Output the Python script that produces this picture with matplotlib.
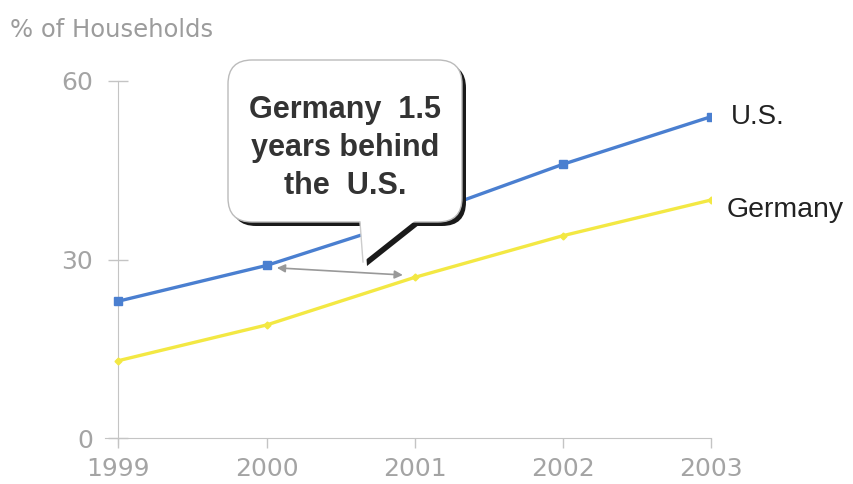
import matplotlib.pyplot as plt
from matplotlib.patches import FancyBboxPatch, Polygon
import numpy as np

# data
years = [1999, 2000, 2001, 2002, 2003]
us = [23, 29, 37, 46, 54]
germany = [13, 19, 27, 34, 40]
y_ticks = [0, 30, 60]

blue = '#4a7fd0'
yellow = '#f3e843'
grey = '#a4a4a4'
spine_grey = '#c4c4c4'

fig = plt.figure(figsize=(8.54, 4.84), dpi=100)
ax = fig.add_axes([105 / 854, 1 - 444 / 484, 606 / 854, 363 / 484])

ax.plot(years, us, color=blue, lw=2.4, marker='s', ms=6, zorder=3)
ax.plot(years, germany, color=yellow, lw=2.4, marker='D', ms=3.5, zorder=3)

ax.set_xlim(1998.91, 2003)
ax.set_ylim(-1, 60)
ax.set_xticks(years)
ax.set_yticks(y_ticks)

for s in ['top', 'right']:
    ax.spines[s].set_visible(False)
ax.spines['left'].set_position(('data', 1999))
ax.spines['bottom'].set_position(('data', 0))
ax.spines['left'].set_color(spine_grey)
ax.spines['bottom'].set_color(spine_grey)

ax.tick_params(axis='y', direction='inout', length=14, width=1, color=spine_grey,
               labelcolor=grey, labelsize=18, pad=11)
ax.tick_params(axis='x', direction='out', length=7, width=1, color=spine_grey,
               labelcolor=grey, labelsize=18, pad=7)
for lbl in ax.get_xticklabels() + ax.get_yticklabels():
    lbl.set_family('DejaVu Sans')

# series labels at line ends
ax.annotate('U.S.', xy=(years[-1], us[-1]), xytext=(14, 0), textcoords='offset points',
            va='center', ha='left', fontsize=20, color='#222222', family='Liberation Sans',
            annotation_clip=False)
ax.annotate('Germany', xy=(years[-1], germany[-1]), xytext=(11, -7), textcoords='offset points',
            va='center', ha='left', fontsize=20.5, color='#222222', family='Liberation Sans',
            annotation_clip=False)

# grey double arrow between the curves (1.5 year gap)
ax.annotate('', xy=(2000.92, 27.4), xytext=(2000.07, 28.6),
            arrowprops=dict(arrowstyle='<|-|>', color='#999999', lw=1.2,
                            mutation_scale=12, shrinkA=0, shrinkB=0))

fig.text(10 / 854, 1 - 30 / 484, '% of Households', color='#9c9c9c', fontsize=17.5,
         family='DejaVu Sans', va='center', ha='left')

# callout drawn in a pixel-coordinate overlay
ov = fig.add_axes([0, 0, 1, 1], zorder=5)
ov.set_xlim(0, 854)
ov.set_ylim(484, 0)
ov.axis('off')
ov.patch.set_alpha(0)

bx0, by0, bx1, by1 = 228, 60, 462, 222
tail = [(360, by1 - 2), (363, 262), (416, by1 - 2)]
sh = 4
box_style = 'round,pad=0,rounding_size=24'

ov.add_patch(FancyBboxPatch((bx0 + sh, by0 + sh), bx1 - bx0, by1 - by0, boxstyle=box_style,
                            fc='#1a1a1a', ec='none', zorder=1))
ov.add_patch(Polygon([(x + sh, y + sh) for x, y in tail], closed=True, fc='#1a1a1a',
                     ec='none', zorder=1))
ov.add_patch(FancyBboxPatch((bx0, by0), bx1 - bx0, by1 - by0, boxstyle=box_style,
                            fc='white', ec='#bbbbbb', lw=1, zorder=2))
ov.add_patch(Polygon(tail, closed=True, fc='white', ec='none', zorder=3))
ov.plot([tail[0][0], tail[1][0]], [tail[0][1] + 2, tail[1][1]], color='#cccccc', lw=1, zorder=4)

ov.text(345, 148, 'Germany  1.5\nyears behind\nthe  U.S.', ha='center', va='center',
        fontsize=22, fontweight='bold', color='#333333', family='Liberation Sans',
        linespacing=1.33, zorder=5)

fig.savefig('out.png', dpi=100)
